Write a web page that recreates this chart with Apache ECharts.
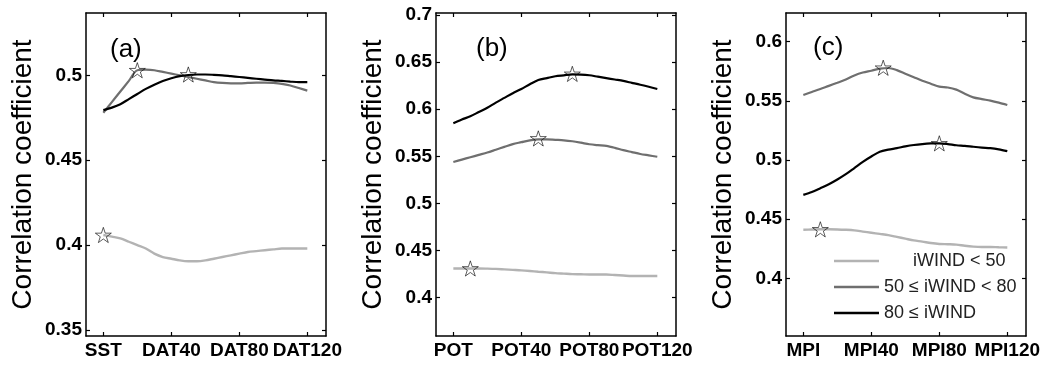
<!DOCTYPE html>
<html><head><meta charset="utf-8">
<script src="https://cdn.jsdelivr.net/npm/echarts@6/dist/echarts.min.js"></script>
<style>html,body{margin:0;padding:0;background:#fff}#c{width:1047px;height:367px}</style>
</head><body><div id="c"></div>
<script>
// x positions (lead, days) of the sampled points
const lags = [0,5,10,15,20,25,30,35,40,45,50,55,60,65,70,75,80,85,90,95,100,105,110,115,120];
const xTickValues = [0,40,80,120];
const xLabelsA = ['SST','DAT40','DAT80','DAT120'];
const xLabelsB = ['POT','POT40','POT80','POT120'];
const xLabelsC = ['MPI','MPI40','MPI80','MPI120'];
const yTicksA = [0.35,0.4,0.45,0.5];
const yTicksB = [0.4,0.45,0.5,0.55,0.6,0.65,0.7];
const yTicksC = [0.4,0.45,0.5,0.55,0.6];
const seriesNames = ['iWIND < 50','50 \u2264 iWIND < 80','80 \u2264 iWIND'];
const panelLabels = ['(a)','(b)','(c)'];

// panel (a)
const aLow  = [0.406,0.405,0.404,0.402,0.400,0.398,0.395,0.393,0.392,0.391,0.3905,0.3905,0.391,0.392,0.393,0.394,0.395,0.396,0.3965,0.397,0.3975,0.398,0.398,0.398,0.398];
const aMid  = [0.478,0.4842,0.4905,0.4967,0.503,0.5033,0.503,0.502,0.501,0.500,0.499,0.498,0.497,0.496,0.4955,0.4953,0.4953,0.4955,0.4957,0.4957,0.4955,0.495,0.494,0.4925,0.491];
const aHigh = [0.4795,0.481,0.483,0.486,0.489,0.492,0.4945,0.4967,0.4983,0.4995,0.5002,0.5005,0.5005,0.5003,0.500,0.4995,0.499,0.4985,0.498,0.4975,0.497,0.4967,0.4963,0.496,0.496];
const aStars = [[0,0.406],[20,0.503],[50,0.5005]];

// panel (b)
const bLow  = [0.431,0.431,0.431,0.431,0.4308,0.4305,0.430,0.4295,0.429,0.4283,0.4275,0.4268,0.426,0.4255,0.425,0.4248,0.4245,0.4245,0.4245,0.424,0.4235,0.423,0.423,0.423,0.423];
const bMid  = [0.544,0.5465,0.549,0.5515,0.554,0.557,0.560,0.563,0.565,0.567,0.568,0.568,0.5675,0.567,0.566,0.5645,0.5628,0.5618,0.561,0.559,0.5565,0.5545,0.5525,0.551,0.5495];
const bHigh = [0.585,0.589,0.5925,0.597,0.6015,0.607,0.612,0.617,0.6215,0.6265,0.631,0.633,0.635,0.636,0.637,0.6368,0.636,0.6345,0.633,0.6315,0.630,0.628,0.626,0.6238,0.6215];
const bStars = [[10,0.431],[50,0.569],[70,0.6375]];

// panel (c)
const cLow  = [0.441,0.4412,0.4414,0.4414,0.4413,0.441,0.4405,0.4395,0.4385,0.4375,0.4365,0.435,0.4335,0.432,0.431,0.4298,0.429,0.4288,0.4285,0.4275,0.4268,0.4265,0.4265,0.4262,0.426];
const cMid  = [0.555,0.5575,0.560,0.5627,0.5653,0.568,0.5715,0.574,0.5755,0.5772,0.5778,0.576,0.573,0.570,0.567,0.5645,0.562,0.5613,0.5595,0.556,0.553,0.5515,0.5502,0.5485,0.5465];
const cHigh = [0.4705,0.473,0.4762,0.4795,0.4835,0.488,0.4932,0.4985,0.503,0.507,0.5088,0.510,0.5115,0.5127,0.5135,0.514,0.5141,0.5135,0.5125,0.512,0.5112,0.5105,0.510,0.509,0.5075];
const cStars = [[10,0.4414],[47,0.578],[80,0.5141]];

const panels = [
  {left:86,  xl:xLabelsA, yt:yTicksA, ymin:0.3465, ymax:0.5367, low:aLow, mid:aMid, high:aHigh, stars:aStars, lab:{x:110,y:37}},
  {left:436, xl:xLabelsB, yt:yTicksB, ymin:0.3593, ymax:0.7021, low:bLow, mid:bMid, high:bHigh, stars:bStars, lab:{x:476,y:36}},
  {left:786, xl:xLabelsC, yt:yTicksC, ymin:0.3512, ymax:0.6243, low:cLow, mid:cMid, high:cHigh, stars:cStars, lab:{x:813,y:35}}
];

const FONT = "'Liberation Sans', Arial, sans-serif";
const colors = ['#b3b3b3','#6f6f6f','#000000'];
const widths = [2.4,2.2,2.2];
const STAR = 'path://M0,-10 L2.245,-3.09 L9.51,-3.09 L3.633,1.18 L5.878,8.09 L0,3.82 L-5.878,8.09 L-3.633,1.18 L-9.51,-3.09 L-2.245,-3.09 Z';

const grid = [], xAxis = [], yAxis = [], series = [], title = [];
panels.forEach((p, i) => {
  grid.push({left:p.left, top:13, width:240, height:323, containLabel:false});
  const lineStyle = {color:'#000', width:1.5};
  const tickStyle = {color:'#000', width:1.2};
  xAxis.push({
    type:'value', gridIndex:i, position:'bottom', min:-10.2, max:131,
    axisLine:{show:true, onZero:false, lineStyle},
    axisTick:{show:true, inside:true, length:4, customValues:xTickValues, lineStyle:tickStyle},
    axisLabel:{show:true, customValues:xTickValues, margin:5, color:'#000', fontSize:19, fontWeight:'bold', fontFamily:FONT,
      formatter:(v)=>p.xl[xTickValues.indexOf(v)]},
    splitLine:{show:false}
  });
  xAxis.push({
    type:'value', gridIndex:i, position:'top', min:-10.2, max:131,
    axisLine:{show:true, onZero:false, lineStyle},
    axisTick:{show:true, inside:true, length:4, customValues:xTickValues, lineStyle:tickStyle},
    axisLabel:{show:false}, splitLine:{show:false}
  });
  yAxis.push({
    type:'value', gridIndex:i, position:'left', min:p.ymin, max:p.ymax,
    axisLine:{show:true, onZero:false, lineStyle},
    axisTick:{show:true, inside:true, length:4, customValues:p.yt, lineStyle:tickStyle},
    axisLabel:{show:true, customValues:p.yt, margin:4, color:'#000', fontSize:19, fontWeight:'bold', fontFamily:FONT,
      formatter:(v)=>String(+(+v).toFixed(2))},
    splitLine:{show:false},
    name:'Correlation coefficient', nameLocation:'middle', nameGap:49,
    nameTextStyle:{fontSize:28, color:'#000', fontFamily:FONT}
  });
  yAxis.push({
    type:'value', gridIndex:i, position:'right', min:p.ymin, max:p.ymax,
    axisLine:{show:true, onZero:false, lineStyle},
    axisTick:{show:true, inside:true, length:4, customValues:p.yt, lineStyle:tickStyle},
    axisLabel:{show:false}, splitLine:{show:false}
  });
  [p.low, p.mid, p.high].forEach((arr, k) => {
    series.push({
      type:'line', name:seriesNames[k], xAxisIndex:i*2, yAxisIndex:i*2,
      data:lags.map((x, j) => [x, arr[j]]), symbol:'none', smooth:0.3,
      lineStyle:{color:colors[k], width:widths[k]}, itemStyle:{color:colors[k]}, z:2+k, silent:true
    });
  });
  series.push({
    type:'scatter', name:'max', xAxisIndex:i*2, yAxisIndex:i*2, data:p.stars,
    symbol:STAR, symbolSize:16, symbolKeepAspect:true,
    itemStyle:{color:'rgba(255,255,255,0)', borderColor:'#000', borderWidth:0.8}, z:10, silent:true
  });
  title.push({text:panelLabels[i], left:p.lab.x, top:p.lab.y, padding:0,
    textStyle:{fontSize:26, fontWeight:'normal', color:'#000', fontFamily:FONT}});
});

const chart = echarts.init(document.getElementById('c'), null, {renderer:'canvas'});
chart.setOption({
  animation:false,
  backgroundColor:'#fff',
  title, grid, xAxis, yAxis, series,
  legend:{
    data:seriesNames, orient:'vertical', left:834, top:252, icon:'rect', itemWidth:45, itemHeight:2.4, itemGap:8,
    padding:0, selectedMode:false,
    textStyle:{fontSize:18, color:'#222', fontFamily:FONT, lineHeight:18, rich:{p:{width:29}}},
    formatter:(n)=> n === seriesNames[0] ? '{p|}' + n : n
  }
});
</script>
</body></html>
